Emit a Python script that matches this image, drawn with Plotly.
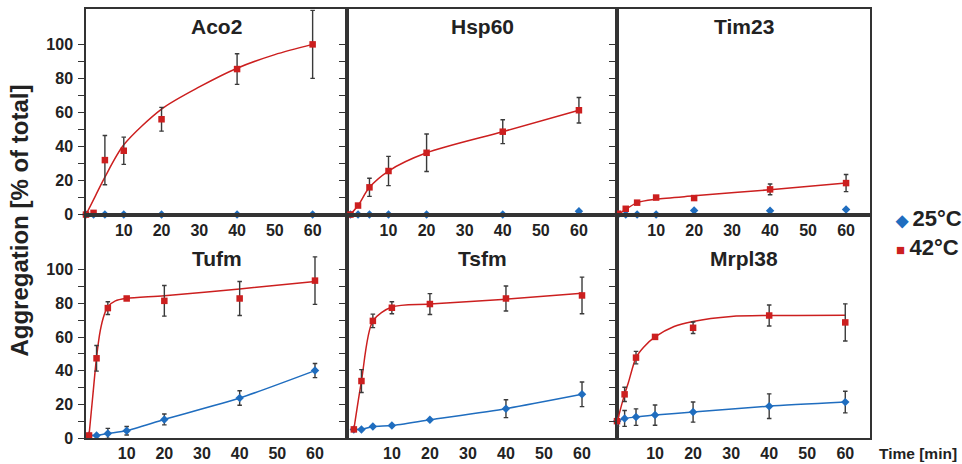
import plotly.graph_objects as go

NO = 0  # no visible error bar for this point

# ---------------- data ----------------
panel_names = ["Aco2", "Hsp60", "Tim23", "Tufm", "Tsfm", "Mrpl38"]
time_min = [0, 2, 5, 10, 20, 40, 60]
x_ticks = [10, 20, 30, 40, 50, 60]
y_ticks = [0, 10, 20, 30, 40, 50, 60, 70, 80, 90, 100]
y_ticktext = ["0", "", "20", "", "40", "", "60", "", "80", "", "100"]

# Aco2
aco2_25 = [0, 0, 0, 0, 0, 0, 0]
aco2_25_err = [NO] * 7
aco2_42 = [0, 1, 32, 37.5, 56, 85.5, 100]
aco2_42_err = [NO, NO, 14.5, 8, 7, 9, 20]
aco2_fit_t = [0, 2.5, 5, 10, 20, 30, 40, 50, 60]
aco2_fit_y = [0, 11, 22, 41, 62, 75, 86, 94, 100]

# Hsp60
hsp60_25 = [0, 0, 0, 0, 0, 0, 2]
hsp60_25_err = [NO] * 7
hsp60_42 = [0, 5.3, 16, 25.6, 36.3, 48.7, 61.3]
hsp60_42_err = [NO, NO, 5.3, 8.6, 11, 7, 7.5]
hsp60_fit_t = [0, 2, 5, 10, 20, 40, 60]
hsp60_fit_y = [0, 5.3, 16, 25.6, 36.3, 48.7, 61.3]

# Tim23
tim23_25 = [0, 0, 0, 0, 2.4, 2.2, 3]
tim23_25_err = [NO] * 7
tim23_42 = [0.5, 3.4, 7, 10, 9.7, 14.8, 18.5]
tim23_42_err = [NO, NO, NO, NO, NO, 3.2, 5]
tim23_fit_t = [0, 2, 5, 10, 20, 40, 60]
tim23_fit_y = [0, 3, 7, 9, 11, 14.6, 18.5]

# Tufm
tufm_25 = [1.6, 1.6, 2.8, 4.4, 11.1, 23.8, 40.1]
tufm_25_err = [NO, NO, 3, 2.5, 3.2, 4.3, 4.2]
tufm_42 = [1.6, 47.4, 77.2, 82.9, 81.5, 82.9, 93.5]
tufm_42_err = [NO, 7.6, 3.8, NO, 9.1, 10.1, 14.1]
tufm_fit_t = [0, 1, 2, 3, 4, 5, 7, 10, 20, 40, 60]
tufm_fit_y = [1.6, 25, 48, 64, 73, 78, 81.5, 82.9, 84.5, 88.6, 93]

# Tsfm
tsfm_25 = [5.2, 5.2, 6.9, 7.5, 10.9, 17.5, 26]
tsfm_25_err = [NO, NO, NO, NO, NO, 5.3, 7.3]
tsfm_42 = [5.2, 33.9, 69.6, 77.4, 79.6, 82.9, 84.7]
tsfm_42_err = [NO, 6.8, 4, 3.6, 6.2, 7.4, 10.9]
tsfm_fit_t = [0, 2, 5, 10, 20, 40, 60]
tsfm_fit_y = [5.2, 33.9, 69.6, 77.8, 79.6, 82.5, 86]

# Mrpl38
mrpl38_25 = [10.1, 11.7, 12.5, 13.7, 15.5, 19, 21.4]
mrpl38_25_err = [3, 4.7, 4.9, 6, 6, 7.3, 6.4]
mrpl38_42 = [10.1, 26, 47.8, 60.1, 65.5, 72.8, 68.7]
mrpl38_42_err = [NO, 4.2, 3.7, NO, 3.4, 6.2, 11]
mrpl38_fit_t = [0, 1, 2, 3, 5, 7, 10, 15, 20, 30, 40, 60]
mrpl38_fit_y = [9, 18, 26, 33, 47.8, 54, 60.1, 66.3, 69.3, 72.2, 72.8, 73]

series_25 = [aco2_25, hsp60_25, tim23_25, tufm_25, tsfm_25, mrpl38_25]
series_25_err = [aco2_25_err, hsp60_25_err, tim23_25_err, tufm_25_err, tsfm_25_err, mrpl38_25_err]
series_42 = [aco2_42, hsp60_42, tim23_42, tufm_42, tsfm_42, mrpl38_42]
series_42_err = [aco2_42_err, hsp60_42_err, tim23_42_err, tufm_42_err, tsfm_42_err, mrpl38_42_err]
fits_t = [aco2_fit_t, hsp60_fit_t, tim23_fit_t, tufm_fit_t, tsfm_fit_t, mrpl38_fit_t]
fits_y = [aco2_fit_y, hsp60_fit_y, tim23_fit_y, tufm_fit_y, tsfm_fit_y, mrpl38_fit_y]
blue_has_line = [False, False, False, True, True, True]

# ---------------- styling / layout ----------------
W, H = 962, 464
H_EFF = 464 * 0.978  # rendered vertical extent observed for this page
RED = "#cc1f1f"
BLUE = "#1f6dbf"
ERR = "#3a3a3a"
FRAME = "#333333"
TXT = "#222222"
FONT = "Liberation Sans, Arial, sans-serif"
CAP = 0.6  # half cap width in minutes

col_px = [(86, 347), (347, 617), (617, 870)]
row_px = [(9.3, 214), (214, 437)]
x_ranges = [[0, 69.1], [-0.9, 70], [-0.3, 66.3], [-0.8, 68.5], [-1.8, 69.2], [0, 66.5]]
y_ranges = [[0, 120.6], [0, 132.7]]


def py(ypx):
    """pixel-from-top -> paper fraction"""
    return 1 - ypx / H_EFF


def err_segments(t, y, e):
    xs, ys = [], []
    for ti, yi, ei in zip(t, y, e):
        if not ei:
            continue
        lo, hi = yi - ei, yi + ei
        xs += [ti, ti, None, ti - CAP, ti + CAP, None, ti - CAP, ti + CAP, None]
        ys += [lo, hi, None, hi, hi, None, lo, lo, None]
    return xs, ys


fig = go.Figure()
layout_axes = {}
annotations = []

for i, name in enumerate(panel_names):
    r, c = divmod(i, 3)
    n = i + 1
    xa = f"x{n}" if n > 1 else "x"
    ya = f"y{n}" if n > 1 else "y"

    ex, ey = err_segments(time_min, series_25[i], series_25_err[i])
    if ex:
        fig.add_trace(go.Scatter(x=ex, y=ey, xaxis=xa, yaxis=ya, mode="lines",
                                 line=dict(color=ERR, width=1.4),
                                 showlegend=False, hoverinfo="skip"))
    fig.add_trace(go.Scatter(
        x=time_min, y=series_25[i], xaxis=xa, yaxis=ya,
        mode="lines+markers" if blue_has_line[i] else "markers",
        line=dict(color=BLUE, width=1.5, shape="spline", smoothing=0.6),
        marker=dict(symbol="diamond", size=6.5, color=BLUE),
        cliponaxis=False, showlegend=False, hoverinfo="skip"))
    fig.add_trace(go.Scatter(
        x=fits_t[i], y=fits_y[i], xaxis=xa, yaxis=ya, mode="lines",
        line=dict(color=RED, width=1.5, shape="spline", smoothing=0.8),
        showlegend=False, hoverinfo="skip"))
    ex, ey = err_segments(time_min, series_42[i], series_42_err[i])
    if ex:
        fig.add_trace(go.Scatter(x=ex, y=ey, xaxis=xa, yaxis=ya, mode="lines",
                                 line=dict(color=ERR, width=1.4),
                                 showlegend=False, hoverinfo="skip"))
    fig.add_trace(go.Scatter(
        x=time_min, y=series_42[i], xaxis=xa, yaxis=ya, mode="markers",
        marker=dict(symbol="square", size=6.5, color=RED),
        cliponaxis=False, showlegend=False, hoverinfo="skip"))

    l, rgt = col_px[c]
    t, b = row_px[r]
    xdom = [l / W, rgt / W]
    ydom = [py(b), py(t)]
    xkey = "xaxis" if n == 1 else f"xaxis{n}"
    ykey = "yaxis" if n == 1 else f"yaxis{n}"
    layout_axes[xkey] = dict(
        domain=xdom, range=x_ranges[i], anchor=ya, type="linear",
        showline=True, linecolor=FRAME, linewidth=1.5, mirror=True,
        showgrid=False, zeroline=False, ticks="",
        tickvals=x_ticks, ticktext=[str(v) for v in x_ticks],
        tickfont=dict(family=FONT, size=16, color=TXT, weight="bold"))
    layout_axes[ykey] = dict(
        domain=ydom, range=y_ranges[r], anchor=xa, type="linear",
        showline=True, linecolor=FRAME, linewidth=1.5, mirror=True,
        showgrid=False, zeroline=False, ticks="outside", ticklen=6,
        tickwidth=1.2, tickcolor=FRAME,
        tickvals=y_ticks, ticktext=y_ticktext, showticklabels=(c == 0),
        ticklabelstandoff=2,
        tickfont=dict(family=FONT, size=16, color=TXT, weight="bold"))

    title_y = 26 if r == 0 else 258
    annotations.append(dict(
        text=name, xref="paper", yref="paper", x=(l + rgt) / 2 / W,
        y=py(title_y), xanchor="center", yanchor="middle", showarrow=False,
        font=dict(family=FONT, size=21, color=TXT, weight="bold")))

annotations.append(dict(
    text="Aggregation [% of total]", xref="paper", yref="paper",
    x=20 / W, y=py(220), textangle=-90, showarrow=False,
    xanchor="center", yanchor="middle",
    font=dict(family=FONT, size=24, color=TXT, weight="bold")))
annotations.append(dict(
    text="Time [min]", xref="paper", yref="paper",
    x=959 / W, y=py(452), showarrow=False,
    xanchor="right", yanchor="middle",
    font=dict(family=FONT, size=15.5, color=TXT, weight="bold")))

legend_labels = ["25°C", "42°C"]
legend_glyphs = [("◆", BLUE, 16, 893), ("■", RED, 15, 894)]
legend_ypx = [218, 247]
for lab, (g, col, gs, xpx), ypx in zip(legend_labels, legend_glyphs, legend_ypx):
    annotations.append(dict(
        text=f"<span style='color:{col};font-size:{gs}px'>{g}</span>\u2009{lab}",
        xref="paper", yref="paper", x=xpx / W, y=py(ypx),
        xanchor="left", yanchor="middle", showarrow=False,
        font=dict(family=FONT, size=22, color=TXT, weight="bold")))

fig.update_layout(
    width=W, height=H, margin=dict(l=0, r=0, t=0, b=0),
    paper_bgcolor="white", plot_bgcolor="rgba(0,0,0,0)",
    showlegend=False, annotations=annotations, **layout_axes)

post = (
    "var gd=document.getElementById('{plot_id}');"
    "gd.style.position='fixed';gd.style.top='0px';gd.style.left='0px';"
    "document.documentElement.style.overflow='hidden';"
    "document.body.style.overflow='hidden';document.body.style.margin='0';"
)
fig.write_html("out.html", config={"displayModeBar": False}, post_script=post)
